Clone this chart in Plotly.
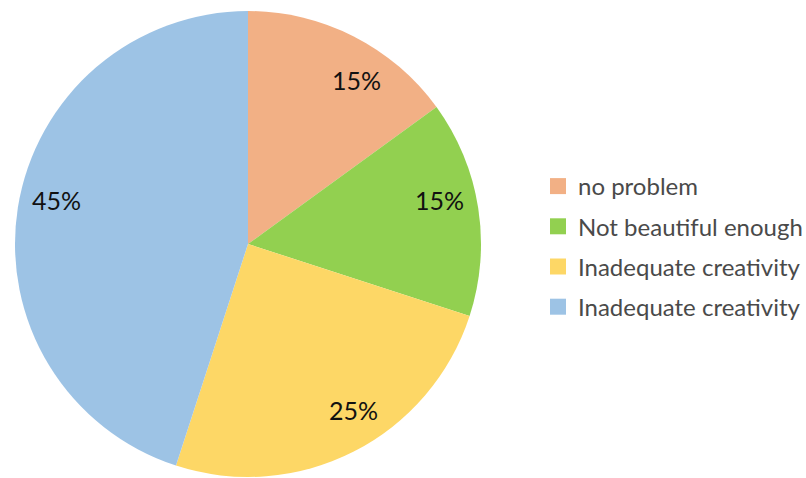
import math
import plotly.graph_objects as go

# Survey answers and their shares (percent)
labels = ["no problem", "Not beautiful enough", "Inadequate creativity", "Inadequate creativity"]
values = [15, 15, 25, 45]
colors = ["#F2B085", "#92D050", "#FDD766", "#9DC3E5"]

W, H = 806, 478
# pie placement in pixels
cx, cy, R = 248, 244, 233
label_r = 0.845 * R
# small angular nudges (degrees) for the percentage labels, best-fit style
label_nudge = [6.6, -4.0, -5.5, 4.0]

fig = go.Figure()

fig.add_trace(go.Pie(
    labels=[f"{lab}{' ' * i}" for i, lab in enumerate(labels)],
    values=values,
    sort=False,
    direction="clockwise",
    rotation=0,
    marker=dict(colors=colors, line=dict(width=0)),
    textinfo="none",
    hoverinfo="label+percent",
    showlegend=False,
    domain=dict(x=[(cx - R) / W, (cx + R) / W], y=[(H - cy - R) / H, (H - cy + R) / H]),
))

# percentage labels placed near each slice's bisector
total = sum(values)
start = 0.0
for v, nudge in zip(values, label_nudge):
    mid = (start + v / 2) / total * 2 * math.pi + math.radians(nudge)
    start += v
    px = cx + label_r * math.sin(mid)
    py = cy - label_r * math.cos(mid)
    fig.add_annotation(
        x=px / W, y=1 - py / H, xref="paper", yref="paper",
        text=f"{round(v / total * 100)}%", showarrow=False,
        font=dict(family="Lato", size=25, color="#111111"),
        xanchor="center", yanchor="middle",
    )

# legend entries, one per slice
for i, (lab, col) in enumerate(zip(labels, colors)):
    fig.add_trace(go.Scatter(
        x=[None], y=[None], mode="markers", name=lab,
        legendgroup=f"g{i}",
        marker=dict(symbol="square", size=16, color=col),
        showlegend=True,
    ))

fig.update_layout(
    width=W, height=H,
    margin=dict(l=0, r=0, t=0, b=0, autoexpand=False),
    paper_bgcolor="white", plot_bgcolor="white",
    xaxis=dict(visible=False), yaxis=dict(visible=False),
    legend=dict(
        x=538 / W, y=1 - 164 / H, xanchor="left", yanchor="top",
        font=dict(family="Lato", size=24, color="#4a4a4a"),
        tracegroupgap=6, itemsizing="trace",
        bgcolor="rgba(0,0,0,0)",
    ),
)

fig.write_html("out.html")
